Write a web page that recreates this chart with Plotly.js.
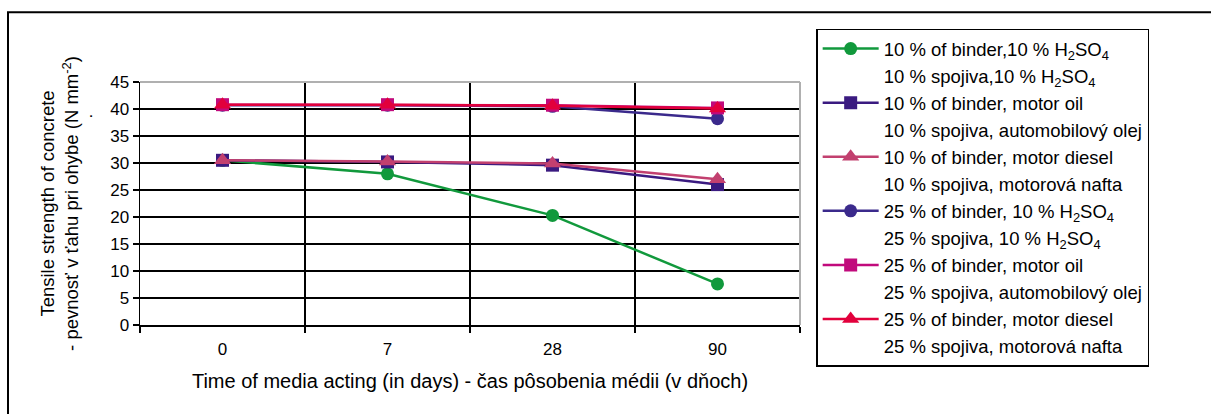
<!DOCTYPE html>
<html>
<head>
<meta charset="utf-8">
<script src="https://cdn.plot.ly/plotly-3.0.1.min.js"></script>
<style>html,body{margin:0;padding:0;background:#fff;}#chart{width:1211px;height:414px;}</style>
</head>
<body>
<div id="chart"></div>
<script>
const days = ["0", "7", "28", "90"];
const b10_h2so4 = [30.5, 28.0, 20.3, 7.6];
const b10_oil = [30.5, 30.2, 29.6, 26.0];
const b10_diesel = [30.5, 30.3, 29.9, 27.0];
const b25_h2so4 = [40.7, 40.7, 40.5, 38.2];
const b25_oil = [40.8, 40.8, 40.7, 40.2];
const b25_diesel = [40.8, 40.8, 40.6, 40.1];

const names1 = [
  "10 % of binder,10 % H<sub>2</sub>SO<sub>4</sub>",
  "10 % of binder, motor oil",
  "10 % of binder, motor diesel",
  "25 % of binder, 10 % H<sub>2</sub>SO<sub>4</sub>",
  "25 % of binder, motor oil",
  "25 % of binder, motor diesel"
];
const names2 = [
  "10 % spojiva,10 % H<sub>2</sub>SO<sub>4</sub>",
  "10 % spojiva, automobilový olej",
  "10 % spojiva, motorová nafta",
  "25 % spojiva, 10 % H<sub>2</sub>SO<sub>4</sub>",
  "25 % spojiva, automobilový olej",
  "25 % spojiva, motorová nafta"
];
const series = [b10_h2so4, b10_oil, b10_diesel, b25_h2so4, b25_oil, b25_diesel];
const colors = ["#11993c", "#3a1a80", "#c2406f", "#3b2a8c", "#c10a7c", "#e2003c"];
const symbols = ["circle", "square", "triangle-up", "circle", "square", "triangle-up"];
const sizes = [13, 13, 15, 13, 13, 15];

const traces = [];
series.forEach((vals, i) => {
  traces.push({
    x: days, y: vals, type: "scatter", mode: "lines+markers", name: names1[i],
    line: {color: colors[i], width: 2.5},
    marker: {color: colors[i], symbol: symbols[i], size: sizes[i]}
  });
  traces.push({
    x: [days[0]], y: [null], type: "scatter", mode: "markers", name: names2[i],
    marker: {color: "rgba(0,0,0,0)", size: 1}, hoverinfo: "skip"
  });
});

const layout = {
  width: 1211, height: 414,
  margin: {l: 140, r: 411, t: 82, b: 89},
  paper_bgcolor: "#fff", plot_bgcolor: "#fff",
  font: {family: "Liberation Sans, Arial, sans-serif", color: "#000", size: 17},
  showlegend: true,
  legend: {
    x: 1.0245, xanchor: "left", y: 1.22, yanchor: "top",
    bordercolor: "#000", borderwidth: 1.5, bgcolor: "#fff",
    font: {size: 18.5, color: "#000"}, itemwidth: 56, tracegroupgap: 0,
    maxheight: 400
  },
  xaxis: {
    type: "category", range: [-0.5, 3.5],
    showgrid: true, gridcolor: "#000", gridwidth: 2,
    tickson: "boundaries", ticks: "outside", ticklen: 6, tickcolor: "#000", tickwidth: 1.5,
    showline: true, linecolor: "#000", linewidth: 1.5,
    tickfont: {size: 17}, ticklabelstandoff: 8,
    title: {text: "Time of media acting (in days) - čas pôsobenia médii (v dňoch)", font: {size: 20}, standoff: 16},
    fixedrange: true
  },
  yaxis: {
    range: [0, 45], dtick: 5, tick0: 0,
    showgrid: true, gridcolor: "#000", gridwidth: 2,
    ticks: "outside", ticklen: 6, tickcolor: "#000", tickwidth: 1.5,
    showline: true, linecolor: "#000", linewidth: 1.5,
    zeroline: false,
    tickfont: {size: 17},
    title: {text: "Tensile strength of concrete<br>- pevnosť v ťahu pri ohybe (N mm<sup>-2</sup>)", font: {size: 18.5}, standoff: 26},
    fixedrange: true
  },
  shapes: [
    {type: "line", xref: "paper", yref: "paper", x0: 0, x1: 1, y0: 1, y1: 1, line: {color: "#b0b0b0", width: 2}},
    {type: "line", xref: "paper", yref: "paper", x0: 1, x1: 1, y0: 0, y1: 1, line: {color: "#b0b0b0", width: 2}},
    {type: "rect", xref: "paper", yref: "paper", x0: -0.2, x1: 1.65, y0: -0.4, y1: 1.2875, line: {color: "#000", width: 2}, layer: "below"}
  ],
  annotations: [
    {text: ".", xref: "paper", yref: "paper", x: -0.098, y: 0.88, showarrow: false, font: {size: 17}, textangle: -90}
  ]
};

Plotly.newPlot("chart", traces, layout, {displayModeBar: false, staticPlot: true});
</script>
</body>
</html>
